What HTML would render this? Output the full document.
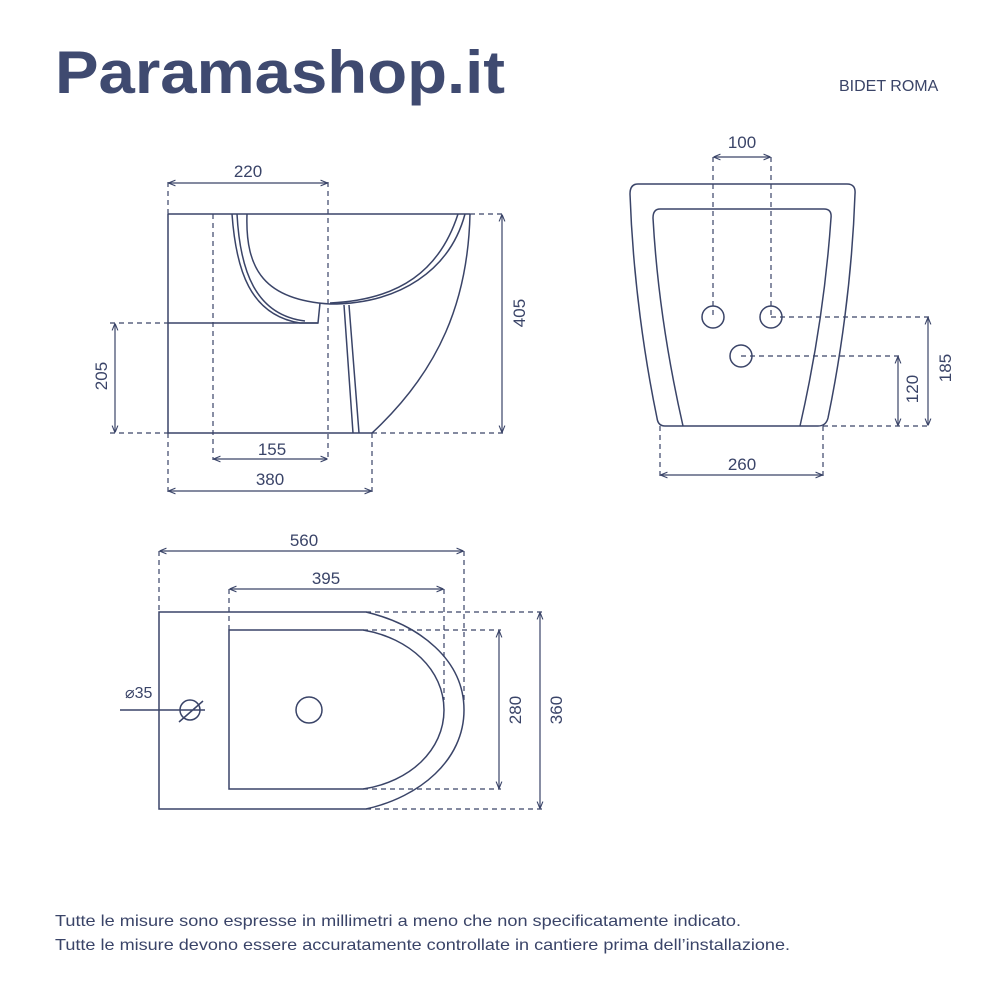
<!DOCTYPE html>
<html><head><meta charset="utf-8"><style>
html,body{margin:0;padding:0;background:#fff;}
svg{display:block;}
text{font-family:"Liberation Sans",sans-serif;fill:#3a4468;}
</style></head><body>
<svg width="1000" height="1000" viewBox="0 0 1000 1000" xmlns="http://www.w3.org/2000/svg">
<defs>
<marker id="a" viewBox="0 0 10 10" refX="9" refY="5" markerWidth="6" markerHeight="6" orient="auto-start-reverse"><path d="M0,1 L10,5 L0,9" fill="none" stroke="#3a4468" stroke-width="1.5"/></marker>
</defs>
<text x="55" y="93" font-size="60" font-weight="bold" textLength="450" lengthAdjust="spacingAndGlyphs" style="fill:#3f4a70">Paramashop.it</text>
<text x="839" y="91" font-size="16">BIDET ROMA</text>

<g fill="none" stroke="#3a4468" stroke-width="1.5">
<path d="M168,214 H470"/>
<path d="M168,214 V433 H372"/>
<path d="M168,323 H318"/>
<path d="M470,214 C468,300 440,370 372,433"/>
<path d="M232,214 C236,270 250,315 300,323 L318,323 L320,303"/>
<path d="M247,214 C245,270 265,300 330,304 C400,304 450,270 465,214"/>
<path d="M237,214 C240,270 255,315 305,321"/>
<path d="M344,305 L353,433 M349,305 L359,433"/>
<path d="M458,214 C440,270 400,300 330,303"/>
</g>
<g fill="none" stroke="#3a4468" stroke-width="1.2" stroke-dasharray="5,4">
<path d="M168,182 V214 M328,182 V460 M213,214 V460"/>
<path d="M470,214 H503 M372,433 H503 M110,323 H168 M110,433 H168"/>
<path d="M168,433 V492 M372,433 V492"/>
</g>
<g stroke="#3a4468" stroke-width="1.2">
<line x1="169" y1="183" x2="327" y2="183" marker-start="url(#a)" marker-end="url(#a)"/>
<line x1="502" y1="215" x2="502" y2="432" marker-start="url(#a)" marker-end="url(#a)"/>
<line x1="115" y1="324" x2="115" y2="432" marker-start="url(#a)" marker-end="url(#a)"/>
<line x1="214" y1="459" x2="327" y2="459" marker-start="url(#a)" marker-end="url(#a)"/>
<line x1="169" y1="491" x2="371" y2="491" marker-start="url(#a)" marker-end="url(#a)"/>
</g>
<text x="248" y="177" font-size="17" text-anchor="middle">220</text>
<text x="272" y="455" font-size="17" text-anchor="middle">155</text>
<text x="270" y="485" font-size="17" text-anchor="middle">380</text>
<text transform="translate(525,313) rotate(-90)" font-size="17" text-anchor="middle">405</text>
<text transform="translate(107,376) rotate(-90)" font-size="17" text-anchor="middle">205</text>

<g fill="none" stroke="#3a4468" stroke-width="1.5">
<path d="M638,184 H847 Q856,184 855,194 C852,280 840,360 828,418 Q826,426 818,426 H665 Q658,426 657,418 C645,360 633,280 630,194 Q630,184 638,184 Z"/>
<path d="M660,209 H824 Q832,209 831,218 C826,290 815,360 800,426 M683,426 C668,360 657,290 653,218 Q653,209 660,209"/>
<circle cx="713" cy="317" r="11"/>
<circle cx="771" cy="317" r="11"/>
<circle cx="741" cy="356" r="11"/>
</g>
<g fill="none" stroke="#3a4468" stroke-width="1.2" stroke-dasharray="5,4">
<path d="M713,157 V317 M771,157 V317"/>
<path d="M771,317 H930 M741,356 H900 M823,426 H930"/>
<path d="M660,426 V476 M823,426 V476"/>
</g>
<g stroke="#3a4468" stroke-width="1.2">
<line x1="714" y1="157" x2="770" y2="157" marker-start="url(#a)" marker-end="url(#a)"/>
<line x1="928" y1="318" x2="928" y2="425" marker-start="url(#a)" marker-end="url(#a)"/>
<line x1="898" y1="357" x2="898" y2="425" marker-start="url(#a)" marker-end="url(#a)"/>
<line x1="661" y1="475" x2="822" y2="475" marker-start="url(#a)" marker-end="url(#a)"/>
</g>
<text x="742" y="148" font-size="17" text-anchor="middle">100</text>
<text x="742" y="470" font-size="17" text-anchor="middle">260</text>
<text transform="translate(918,389) rotate(-90)" font-size="17" text-anchor="middle">120</text>
<text transform="translate(951,368) rotate(-90)" font-size="17" text-anchor="middle">185</text>

<g fill="none" stroke="#3a4468" stroke-width="1.5">
<path d="M159,612 H366 C420,625 464,660 464,710 C464,760 420,797 366,809 H159 Z"/>
<path d="M229,630 H363 C410,638 444,670 444,710 C444,750 410,782 363,789 H229 Z"/>
<circle cx="309" cy="710" r="13"/>
<circle cx="190" cy="710" r="10"/>
<path d="M120,710 H205 M179,722 L203,701"/>
</g>
<g fill="none" stroke="#3a4468" stroke-width="1.2" stroke-dasharray="5,4">
<path d="M159,551 V612 M464,551 V700 M229,589 V630 M444,589 V700"/>
<path d="M366,612 H542 M363,630 H501 M363,789 H501 M366,809 H542"/>
</g>
<g stroke="#3a4468" stroke-width="1.2">
<line x1="160" y1="551" x2="463" y2="551" marker-start="url(#a)" marker-end="url(#a)"/>
<line x1="230" y1="589" x2="443" y2="589" marker-start="url(#a)" marker-end="url(#a)"/>
<line x1="499" y1="631" x2="499" y2="788" marker-start="url(#a)" marker-end="url(#a)"/>
<line x1="540" y1="613" x2="540" y2="808" marker-start="url(#a)" marker-end="url(#a)"/>
</g>
<text x="304" y="546" font-size="17" text-anchor="middle">560</text>
<text x="326" y="584" font-size="17" text-anchor="middle">395</text>
<text x="125" y="698" font-size="16">⌀35</text>
<text transform="translate(521,710) rotate(-90)" font-size="17" text-anchor="middle">280</text>
<text transform="translate(562,710) rotate(-90)" font-size="17" text-anchor="middle">360</text>

<text x="55" y="926" font-size="16" textLength="686" lengthAdjust="spacingAndGlyphs">Tutte le misure sono espresse in millimetri a meno che non specificatamente indicato.</text>
<text x="55" y="950" font-size="16" textLength="735" lengthAdjust="spacingAndGlyphs">Tutte le misure devono essere accuratamente controllate in cantiere prima dell’installazione.</text>
</svg>
</body></html>
